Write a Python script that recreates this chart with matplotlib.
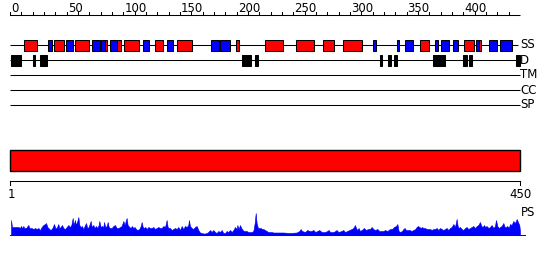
import numpy as np
import matplotlib
matplotlib.use("Agg")
import matplotlib.pyplot as plt
from matplotlib.patches import Rectangle

# ---- DATA (residue coordinates, sequence length 450) ----
seq_len = 450

helix = [(12, 23.5), (39, 48), (57, 70), (84, 86), (94.7, 98.2), (101, 114),
         (128, 135), (147, 161), (199, 202), (225, 240.6), (252, 268.5),
         (276, 285.6), (293.5, 311), (361.5, 370), (401, 409), (414, 415.8)]
strand = [(33.8, 36.8), (49.7, 55.3), (72.6, 79.4), (80.6, 84), (88.5, 94),
          (117.6, 123), (138.8, 143.6), (177, 184), (185.6, 193.7), (320, 323),
          (341.7, 343.5), (348.3, 356), (375, 377.4), (380.6, 387.6),
          (391, 395.6), (411.4, 414), (422.6, 429.4), (432.6, 443.2)]
disorder = [(0.5, 9.7), (20.3, 22), (26.5, 32.4), (204.4, 212.4), (216, 218.5),
            (326.5, 328.2), (333.3, 336), (339, 341.7), (373, 383.8),
            (400, 403.5), (404.7, 408), (446.5, 450)]

track_names = ["SS", "D", "TM", "CC", "SP"]

# PS profile (residue, score; full scale = 25)
ps_pos = [0.9, 1.8, 4.4, 7.4, 8.8, 9.7, 10.6, 11.8, 12.6, 14.1, 16.2, 17.1,
          19.1, 20.6, 22.1, 23.5, 25.0, 26.5, 27.9, 29.4, 30.9, 31.8, 33.0,
          34.7, 35.9, 37.4, 38.8, 40.0, 41.2, 42.6, 43.5, 44.7, 45.9, 47.1,
          48.5, 50.0, 51.5, 52.9, 54.1, 55.3, 56.2, 57.3, 58.2, 59.4, 60.3,
          61.2, 62.3, 63.5, 64.7, 66.2, 67.1, 68.2, 69.4, 70.6, 71.2, 72.1,
          73.5, 74.7, 75.9, 77.1, 78.2, 78.8, 80.0, 81.2, 82.4, 82.9, 84.1,
          85.3, 86.2, 87.1, 88.2, 89.7, 91.2, 92.6, 94.1, 95.6, 97.1, 98.5,
          100.0, 101.2, 102.3, 102.9, 103.8, 105.3, 106.5, 107.6, 108.8,
          110.0, 111.2, 112.3, 114.1, 115.3, 116.2, 117.1, 118.2, 119.4,
          120.6, 122.1, 123.5, 125.0, 126.5, 127.9, 129.4, 130.9, 132.3,
          133.8, 135.3, 136.8, 138.2, 139.1, 140.0, 141.2, 142.6, 144.1,
          145.6, 147.1, 148.5, 150.0, 151.5, 152.9, 154.4, 155.9, 157.3,
          157.9, 158.8, 160.3, 161.8, 163.2, 164.7, 166.2, 167.6, 169.1,
          170.6, 172.1, 173.5, 175.0, 176.5, 177.9, 179.4, 180.9, 182.3,
          183.8, 185.3, 186.8, 188.2, 189.7, 191.2, 192.6, 194.1, 195.6,
          197.1, 198.5, 200.0, 200.6, 201.8, 202.9, 204.1, 205.3, 206.5,
          207.6, 208.8, 210.3, 211.8, 213.2, 214.7, 215.9, 216.8, 217.6,
          218.8, 220.0, 221.2, 222.3, 223.5, 225.0, 226.5, 227.9, 229.4,
          230.9, 232.3, 235.3, 238.2, 241.2, 247.1, 252.9, 255.3, 256.5,
          257.6, 260.3, 262.4, 264.1, 265.9, 267.6, 269.4, 271.2, 272.9,
          275.0, 277.9, 280.0, 281.2, 282.4, 285.3, 287.1, 288.2, 289.7,
          292.6, 294.1, 295.6, 297.6, 299.4, 301.5, 302.9, 304.4, 305.3,
          306.5, 307.6, 308.8, 310.3, 312.3, 314.1, 315.9, 317.6, 319.1,
          320.6, 322.1, 324.1, 325.9, 327.9, 329.4, 330.9, 332.9, 335.3,
          337.1, 338.8, 340.6, 341.8, 342.9, 344.1, 345.9, 347.1, 348.2,
          349.4, 351.2, 352.9, 354.1, 355.9, 357.6, 358.8, 360.0, 361.2,
          362.4, 363.5, 364.7, 366.2, 367.6, 369.1, 370.6, 372.1, 373.5,
          375.0, 376.5, 377.9, 379.4, 380.9, 382.3, 383.8, 385.3, 386.8,
          388.2, 389.7, 391.2, 392.6, 394.1, 395.0, 395.9, 397.1, 398.5,
          400.0, 401.5, 402.9, 404.4, 405.9, 407.4, 408.8, 410.3, 411.8,
          413.2, 414.7, 415.9, 417.1, 418.2, 419.4, 420.6, 422.1, 423.5,
          425.0, 426.5, 427.9, 428.8, 430.0, 431.2, 432.4, 433.8, 435.3,
          436.5, 437.6, 438.8, 440.0, 441.2, 442.6, 444.1, 445.6, 447.1,
          448.2, 449.4, 450.0]
ps_val = [15, 8, 8, 8, 7, 9, 7, 9, 7, 7, 10, 7,
          7, 6, 7, 6, 7, 5, 8, 10, 11, 12, 8,
          6, 5, 7, 11, 7, 7, 11, 7, 8, 10, 7,
          6, 8, 10, 8, 10, 17, 10, 15, 10, 14, 18,
          10, 8, 9, 6, 10, 12, 7, 8, 12, 14, 8,
          10, 7, 9, 7, 10, 14, 8, 9, 8, 13, 8,
          9, 13, 8, 7, 7, 9, 10, 7, 7, 8, 9,
          14, 10, 15, 17, 10, 8, 7, 9, 7,
          8, 6, 5, 6, 9, 13, 8, 7, 8,
          6, 8, 7, 7, 8, 6, 7, 8, 7,
          7, 9, 8, 15, 8, 7, 7, 5, 6,
          7, 6, 8, 5, 9, 6, 9, 8, 10,
          15, 9, 7, 6, 8, 9, 5, 2.5, 2,
          1.5, 1.5, 2, 3, 5, 3, 5, 3, 2,
          4, 3, 5, 2, 2, 4, 3, 5, 3,
          5, 8, 6, 10, 6, 10, 7, 5, 4,
          4, 4, 3, 3, 3, 4, 12, 22, 12,
          7, 7, 7, 6, 6, 5, 4, 3, 3,
          3, 2.5, 2.5, 2.5, 2.5, 2, 2.5, 4, 6,
          4, 3, 5, 4, 4, 5, 3, 4, 5,
          3, 3, 4, 5, 3, 3, 4, 5, 3,
          4, 5, 3, 4, 5, 6, 7, 10, 7,
          5, 7, 4, 5, 7, 5, 6, 6, 8,
          6, 5, 6, 4, 4, 4, 5, 4, 6,
          6, 8, 9, 11, 4, 3, 4, 6, 7,
          5, 5, 5, 4, 5, 6, 8, 9, 8,
          7, 8, 7, 7, 6, 6, 6, 5, 6,
          6, 7, 5, 7, 6, 5, 6, 7, 5,
          7, 8, 11, 8, 16, 9, 7, 8, 6,
          5, 7, 8, 6, 7, 8, 9, 7, 9,
          10, 13, 9, 8, 10, 8, 9, 7, 8,
          10, 7, 9, 15, 9, 7, 8, 9, 12,
          8, 8, 9, 7, 11, 10, 14, 12, 16,
          13, 10, 4]
ps_max = 25

# ---- LAYOUT (pixel rows of a 550x260 canvas) ----
px_per_res = 510 / seq_len
x0_px = 10
y_axis = 15
y_tracks = [45, 60, 75, 90, 105]
y_bar = (150, 170.5)
y_scale = 180.5
y_ps_base = 235
ps_height = 25

fig = plt.figure(figsize=(5.5, 2.6), dpi=100)
ax = fig.add_axes([0, 0, 1, 1])
ax.set_xlim(-x0_px / px_per_res, (550 - x0_px) / px_per_res)
ax.set_ylim(260, 0)
ax.axis("off")

fs = 8.5
lw = 0.75
px = 1 / px_per_res  # one pixel in residue units

# top ruler
ax.plot([0, seq_len], [y_axis, y_axis], color="black", lw=lw, solid_capstyle="butt")
for t in range(0, seq_len, 10):
    ax.plot([t, t], [y_axis - 3, y_axis], color="black", lw=lw)
    if t % 50 == 0:
        ax.text(t + px, y_axis - 2.5, str(t), fontsize=fs, ha="left", va="baseline")

# track lines + labels
for name, y in zip(track_names, y_tracks):
    ax.plot([0, seq_len - 1.5 if name == "SS" else seq_len], [y, y],
            color="black", lw=lw, solid_capstyle="butt")
    ax.text(seq_len, y, name, fontsize=fs, ha="left", va="center")

# secondary structure boxes
for s, e in helix:
    ax.add_patch(Rectangle((s, y_tracks[0] - 5), e - s, 10.5, facecolor="#ff0000",
                           edgecolor="black", lw=lw, zorder=3))
for s, e in strand:
    ax.add_patch(Rectangle((s, y_tracks[0] - 5), e - s, 10.5, facecolor="#0000ff",
                           edgecolor="black", lw=lw, zorder=3))
# disorder boxes
for s, e in disorder:
    ax.add_patch(Rectangle((s, y_tracks[1] - 5.5), e - s, 11.5, facecolor="black",
                           edgecolor="black", lw=lw, zorder=3))

# full-length red bar
ax.add_patch(Rectangle((0, y_bar[0]), seq_len, y_bar[1] - y_bar[0],
                       facecolor="#ff0000", edgecolor="black", lw=1.0))

# bottom ruler
ax.plot([0, seq_len], [y_scale, y_scale], color="black", lw=lw)
ax.plot([0, 0], [y_scale, y_scale + 4.5], color="black", lw=lw)
ax.plot([seq_len, seq_len], [y_scale, y_scale + 4.5], color="black", lw=lw)
ax.text(px, 195, "1", fontsize=fs, ha="center", va="center")
ax.text(seq_len, 195, "450", fontsize=fs, ha="center", va="center")
ax.text(seq_len + px, 212, "PS", fontsize=fs, ha="left", va="center")

# PS profile
pos = np.array(ps_pos, dtype=float)
ps_y = y_ps_base - np.array(ps_val, dtype=float) / ps_max * ps_height
ax.fill_between(pos, ps_y, y_ps_base, color="#0000ff", lw=0.4, edgecolor="#0000ff")
ax.plot([0, seq_len + 4], [y_ps_base, y_ps_base], color="#0000ff", lw=lw)

fig.savefig("out.png", dpi=100)
